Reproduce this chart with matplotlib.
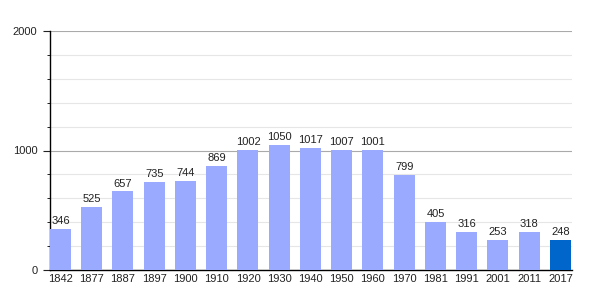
import numpy as np
import matplotlib
matplotlib.use("Agg")
import matplotlib.pyplot as plt
from matplotlib.ticker import MultipleLocator

years = ["1842", "1877", "1887", "1897", "1900", "1910", "1920", "1930", "1940",
         "1950", "1960", "1970", "1981", "1991", "2001", "2011", "2017"]
population = [346, 525, 657, 735, 744, 869, 1002, 1050, 1017,
              1007, 1001, 799, 405, 316, 253, 318, 248]

plt.rcParams["font.family"] = ["Liberation Sans", "DejaVu Sans"]

fig = plt.figure(figsize=(6, 3), dpi=100)
ax = fig.add_axes([50/600, 30/300, 522/600, 239/300])

x = np.arange(len(years))
colors = ["#99aaff"] * (len(years) - 1) + ["#0066cc"]
ax.bar(x, population, width=0.672, color=colors, zorder=3)

for xi, v in zip(x, population):
    ax.text(xi, v + 25, str(v), ha="center", va="bottom", fontsize=8, color="#222", zorder=4)

ax.set_xlim(-0.336, 16.37)
ax.set_ylim(0, 2000)
ax.set_xticks(x)
ax.set_xticklabels(years)
ax.yaxis.set_major_locator(MultipleLocator(1000))
ax.yaxis.set_minor_locator(MultipleLocator(200))
ax.grid(axis="y", which="minor", color="#e6e6e6", lw=0.8, zorder=0)
ax.grid(axis="y", which="major", color="#aaaaaa", lw=0.8, zorder=1)

for s in ("top", "right"):
    ax.spines[s].set_visible(False)
ax.spines["left"].set_linewidth(1.0)
ax.spines["bottom"].set_linewidth(1.0)
ax.tick_params(axis="x", length=0, labelsize=8, pad=3, colors="#222")
ax.tick_params(axis="y", which="major", length=5, labelsize=8, pad=4, colors="#222")
ax.tick_params(axis="y", which="minor", length=2.5)

fig.savefig("out.png", dpi=100)
